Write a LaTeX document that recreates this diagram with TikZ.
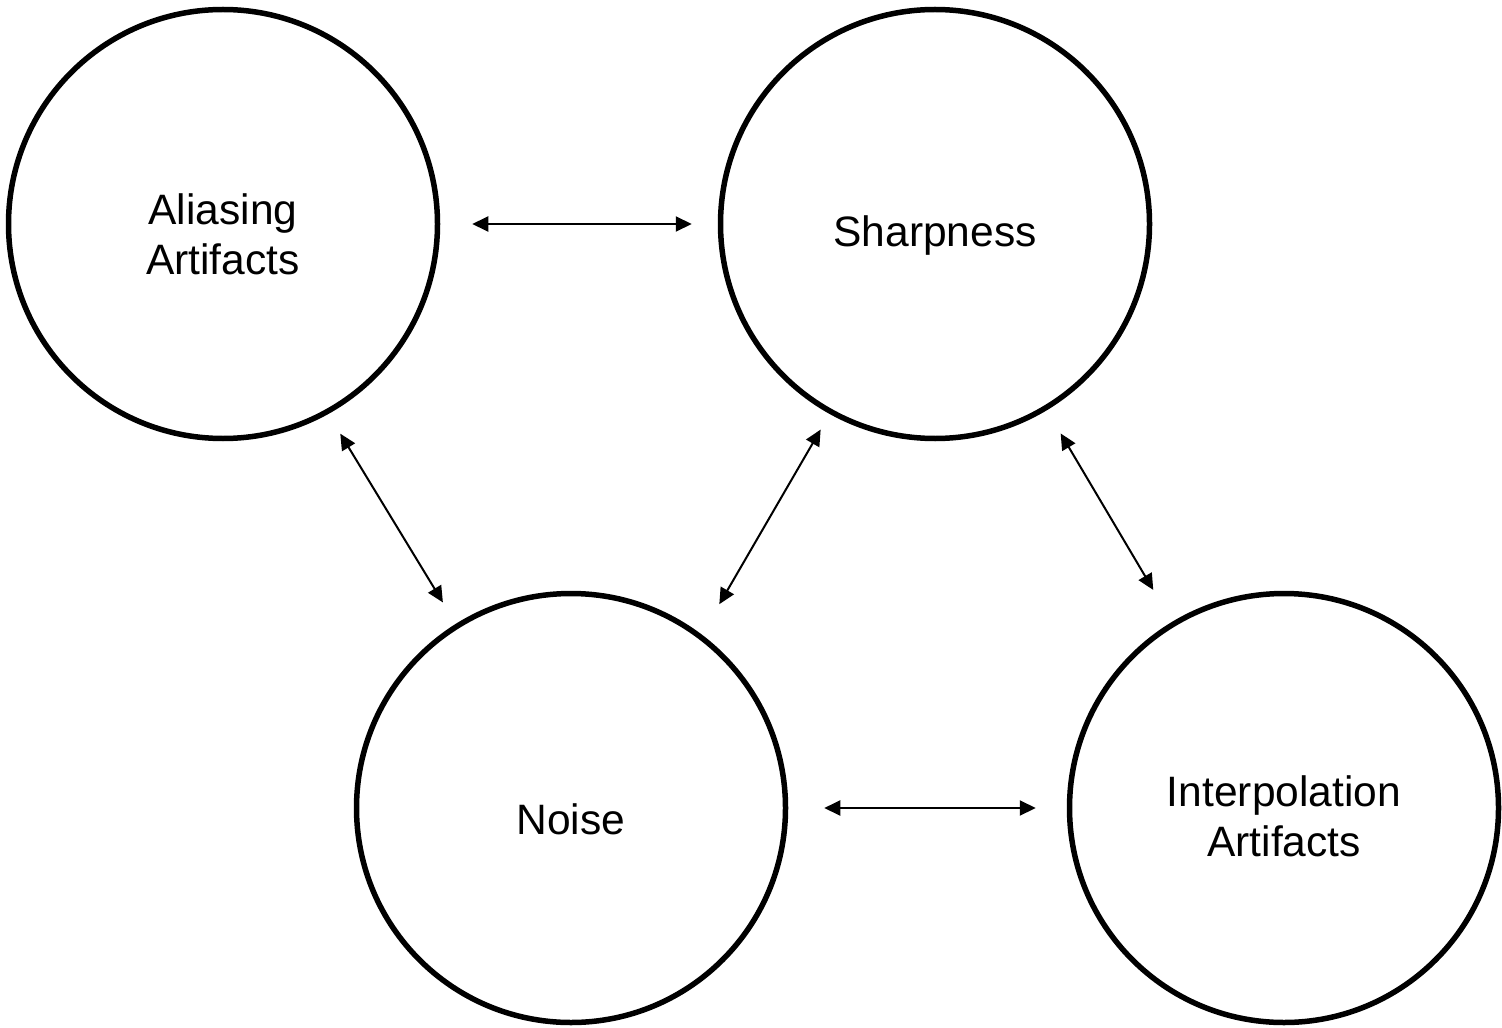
\documentclass[tikz,border=0pt]{standalone}
\usepackage{fontspec}
\setmainfont{Liberation Sans}
\usetikzlibrary{arrows.meta}

\begin{document}
\begin{tikzpicture}[
        blob/.style={circle, draw, line width=0.055cm, minimum size=4.29cm, inner sep=0pt},
        word/.style={align=center, font=\fontsize{12.1}{14.2}\selectfont},
        link/.style={{Triangle[length=0.16cm, width=0.15cm]}-{Triangle[length=0.16cm, width=0.15cm]}, line width=0.02cm}]
        \useasboundingbox (0,0) rectangle (15.02,10.27);
        \node[blob] (alias) at (2.23,8.03) {};
        \node[blob] (sharp) at (9.35,8.03) {};
        \node[blob] (noise) at (5.71,2.19) {};
        \node[blob] (interp) at (12.84,2.19) {};
        \node[word] (alias-t) at ([yshift=-0.1cm]alias.center) {Aliasing\\Artifacts};
        \node[word] (sharp-t) at ([yshift=-0.12cm]sharp.center) {Sharpness};
        \node[word] (noise-t) at ([yshift=-0.11cm]noise.center) {Noise};
        \node[word] (interp-t) at ([yshift=-0.08cm]interp.center) {Interpolation\\Artifacts};
        % top pair and bottom pair
        \draw[link, shorten <=0.32cm, shorten >=0.26cm] (alias.east) -- (sharp.west);
        \draw[link, shorten <=0.36cm, shorten >=0.31cm] (noise.east) -- (interp.west);
        % the diagonals
        \draw[link, shorten <=0.23cm, shorten >=0.25cm] (alias.299.4) -- (noise.122.3);
        \draw[link, shorten <=0.18cm, shorten >=0.35cm] (sharp.241.2) -- (noise.53.7);
        \draw[link, shorten <=0.27cm, shorten >=0.37cm] (sharp.301.55) -- (interp.121.1);
    \end{tikzpicture}
\end{document}
